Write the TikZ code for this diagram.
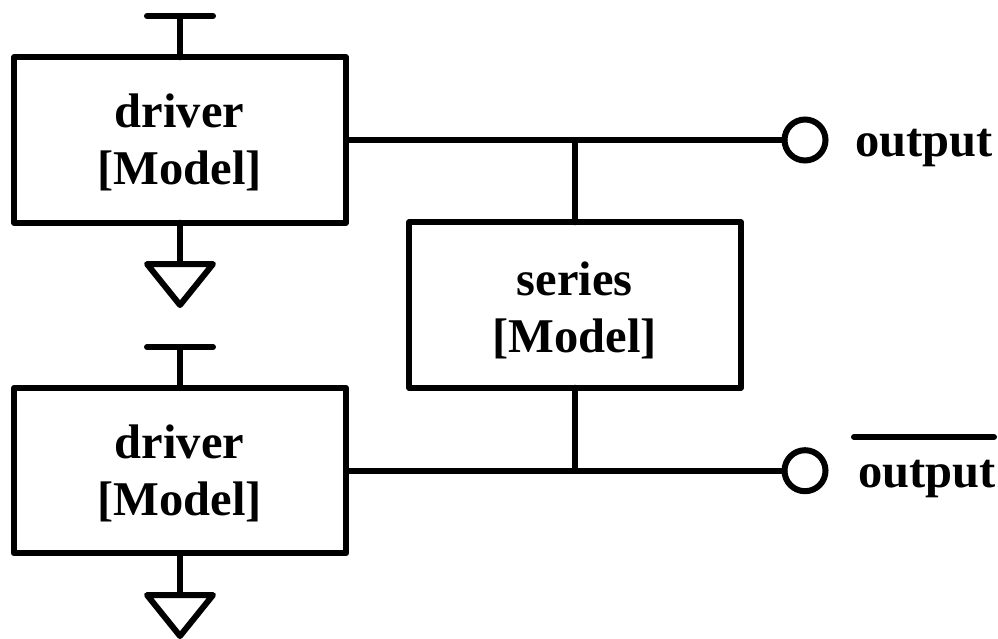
\documentclass[tikz,border=0pt]{standalone}
\usepackage{fontspec}
\setmainfont{Liberation Serif}
\begin{document}
\begin{tikzpicture}[x=1pt,y=-1pt,
  wire/.style={line width=6pt,line cap=round,line join=round,black},
  boxtext/.style={align=center,font=\fontsize{48.5}{57}\selectfont\bfseries,inner sep=0pt,xshift=-0.5pt},
  box/.style={draw=black,line width=6pt,line join=round,fill=white,rectangle,inner sep=0pt,outer sep=0pt,minimum width=332pt,minimum height=165.4pt},
  term/.style={circle,draw=black,line width=6pt,fill=white,minimum size=41pt,inner sep=0pt,outer sep=0pt},
  lab/.style={font=\fontsize{48.5}{57}\selectfont\bfseries,inner sep=0pt,anchor=base west}]
\useasboundingbox (0,0) rectangle (998,638);
\coordinate (v1) at (180,16);
\coordinate (v1l) at (147,16);
\coordinate (v1r) at (213,16);
\coordinate (v2) at (180,347);
\coordinate (v2l) at (147,347);
\coordinate (v2r) at (213,347);
\coordinate (g1) at (180,264);
\coordinate (g1l) at (147,264);
\coordinate (g1r) at (213,264);
\coordinate (g1b) at (180,305);
\coordinate (g2) at (180,595);
\coordinate (g2l) at (147,595);
\coordinate (g2r) at (213,595);
\coordinate (g2b) at (180,636);
\coordinate (j1) at (575,140);
\coordinate (j2) at (575,470.7);
\coordinate (bl) at (854,437);
\coordinate (br) at (994,437);
\node[term] (t1) at (805,140) {};
\node[term] (t2) at (805,470.7) {};
\draw[wire] (v1l) -- (v1r);
\draw[wire] (v2l) -- (v2r);
\draw[wire] (g1l) -- (g1r) -- (g1b) -- cycle;
\draw[wire] (g2l) -- (g2r) -- (g2b) -- cycle;
\node[box,label={[boxtext,yshift=-2pt]center:{driver\\{[Model]}}}] (d1) at (180,140) {};
\node[box,label={[boxtext,yshift=-3pt]center:{driver\\{[Model]}}}] (d2) at (180,470.7) {};
\node[box,label={[boxtext,yshift=-5pt]center:{series\\{[Model]}}}] (s) at (575,305) {};
\node[lab] (o1) at (855,156) {output};
\node[lab] (o2) at (858,487) {output};
\draw[wire] (v1) -- (d1.north -| v1);
\draw[wire] (v2) -- (d2.north -| v2);
\draw[wire] (d1.south -| g1) -- (g1);
\draw[wire] (d2.south -| g2) -- (g2);
\draw[wire] (d1.east |- j1) -- (t1.west);
\draw[wire] (d2.east |- j2) -- (t2.west);
\draw[wire] (j1) -- (s.north -| j1);
\draw[wire] (s.south -| j2) -- (j2);
\draw[wire] (bl) -- (br);
\end{tikzpicture}
\end{document}
